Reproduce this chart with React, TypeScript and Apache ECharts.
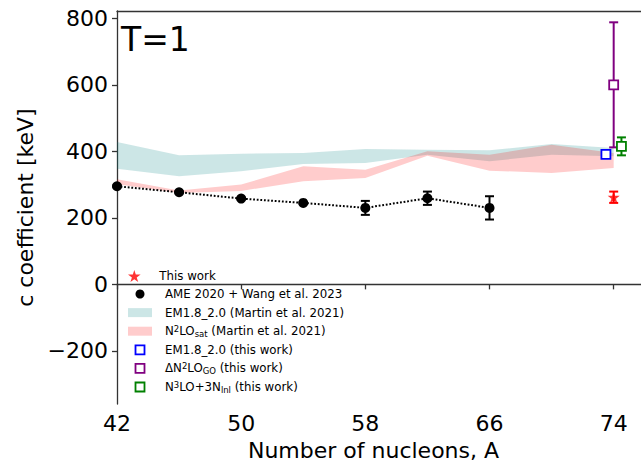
import React, { useEffect, useRef } from "react";
import * as echarts from "echarts";

// ---- data ----
const AME_A = [42, 46, 50, 54, 58, 62, 66];
const AME_C = [295, 277, 258, 245, 230, 259, 230];
const AME_ERR = [3, 3, 3, 3, 21, 20, 35];

const BAND_A = [42, 46, 50, 54, 58, 62, 66, 70, 74];
const EM_LO = [348, 325, 340, 362, 365, 390, 370, 390, 385];
const EM_HI = [428, 388, 393, 395, 407, 405, 403, 422, 410];
const N2_LO = [301, 275, 281, 310, 320, 387, 342, 335, 350];
const N2_HI = [316, 282, 300, 355, 345, 400, 390, 420, 395];

const THIS_A = [74];
const THIS_C = [262];
const THIS_ERR = [17];

const EM_THIS_A = [73.5];
const EM_THIS_C = [391];

const DN2_A = [74];
const DN2_C = [600];
const DN2_ERR = [188];

const N3_A = [74.5];
const N3_C = [415];
const N3_ERR = [27];

const X_TICKS = [42, 50, 58, 66, 74];
const Y_TICKS = [-200, 0, 200, 400, 600, 800];

const FONT = "DejaVu Sans";

const starPath = (() => {
  const pts: string[] = [];
  for (let i = 0; i < 10; i++) {
    const r = i % 2 ? 0.381 : 1;
    const a = ((-90 + i * 36) * Math.PI) / 180;
    pts.push(`${(r * Math.cos(a)).toFixed(3)},${(r * Math.sin(a)).toFixed(3)}`);
  }
  return "path://M" + pts.join("L") + "Z";
})();
const squarePath = "path://M0,0L10,0L10,10L0,10Z";

const NAMES = {
  star: "This work",
  ame: "AME 2020 + Wang et al. 2023",
  emBand: "EM1.8_2.0 (Martin et al. 2021)",
  n2Band: "N2LO_sat (Martin et al. 2021)",
  emThis: "EM1.8_2.0 (this work)",
  dn2: "ΔN2LO_GO (this work)",
  n3: "N3LO+3N_lnl (this work)",
};

const RICH_NAMES: Record<string, string> = {
  [NAMES.star]: "{n|This work}",
  [NAMES.ame]: "{n|AME 2020 + Wang et al. 2023}",
  [NAMES.emBand]: "{n|EM1.8_2.0 (Martin et al. 2021)}",
  [NAMES.n2Band]: "{n|N}{sup|2}{n|LO}{sub|sat}{n| (Martin et al. 2021)}",
  [NAMES.emThis]: "{n|EM1.8_2.0 (this work)}",
  [NAMES.dn2]: "{n|ΔN}{sup|2}{n|LO}{sub|GO}{n| (this work)}",
  [NAMES.n3]: "{n|N}{sup|3}{n|LO+3N}{sub|lnl}{n| (this work)}",
};

function bandSeries(name: string, lo: number[], hi: number[], fill: string) {
  return {
    type: "custom",
    name,
    data: BAND_A.map((a, i) => [a, lo[i], hi[i]]),
    encode: { x: 0, y: [1, 2] },
    z: 1,
    renderItem: (params: any, api: any) => {
      if (params.dataIndex !== 0) return null;
      const upper = BAND_A.map((a, i) => api.coord([a, hi[i]]));
      const lower = BAND_A.map((a, i) => api.coord([a, lo[i]])).reverse();
      return {
        type: "polygon",
        shape: { points: upper.concat(lower) },
        style: { fill, stroke: "none" },
      };
    },
  };
}

function errSeries(name: string, xs: number[], ys: number[], errs: number[], color: string) {
  return {
    type: "custom",
    name,
    data: xs.map((x, i) => [x, ys[i], errs[i]]),
    encode: { x: 0, y: 1 },
    z: 3,
    renderItem: (params: any, api: any) => {
      const x = api.value(0);
      const y = api.value(1);
      const e = api.value(2);
      const t = api.coord([x, y + e]);
      const b = api.coord([x, y - e]);
      const c = 4.5;
      const st = { stroke: color, lineWidth: 2 };
      return {
        type: "group",
        children: [
          { type: "line", shape: { x1: t[0], y1: t[1], x2: b[0], y2: b[1] }, style: st },
          { type: "line", shape: { x1: t[0] - c, y1: t[1], x2: t[0] + c, y2: t[1] }, style: st },
          { type: "line", shape: { x1: b[0] - c, y1: b[1], x2: b[0] + c, y2: b[1] }, style: st },
        ],
      };
    },
  };
}

function squareScatter(name: string, xs: number[], ys: number[], color: string) {
  return {
    type: "scatter",
    name,
    data: xs.map((x, i) => [x, ys[i]]),
    symbol: squarePath,
    symbolSize: 9,
    z: 5,
    itemStyle: { color: "#ffffff", borderColor: color, borderWidth: 1.8, opacity: 1 },
  };
}

const legendText = {
  fontFamily: FONT,
  fontSize: 11.8,
  color: "#000",
  lineHeight: 14,
  rich: {
    sp: { fontFamily: FONT, fontSize: 11.8, lineHeight: 14, width: 8 },
    n: { fontFamily: FONT, fontSize: 11.8, lineHeight: 14, color: "#000" },
    sup: { fontFamily: FONT, fontSize: 8.5, lineHeight: 8, verticalAlign: "top", color: "#000" },
    sub: { fontFamily: FONT, fontSize: 8.5, lineHeight: 8, verticalAlign: "bottom", color: "#000" },
  },
};

const legendFormatter = (name: string) => "{sp| }" + (RICH_NAMES[name] || name);

export default function App() {
  const ref = useRef<HTMLDivElement>(null);
  useEffect(() => {
    document.body.style.margin = "0";
    const chart = echarts.init(ref.current!, null, { renderer: "svg" });
    const axisColor = "#333";
    const option: any = {
      animation: false,
      backgroundColor: "#ffffff",
      textStyle: { fontFamily: FONT },
      grid: { left: 117, top: 11, right: 0, bottom: 61, containLabel: false },
      xAxis: [
        {
          type: "value",
          min: 42,
          max: 75.76,
          name: "Number of nucleons, A",
          nameLocation: "middle",
          nameGap: 34,
          nameTextStyle: { fontSize: 22, color: "#000", fontFamily: FONT, padding: [0, 11, 0, 0] },
          axisLine: { show: true, lineStyle: { color: axisColor, width: 1.3 } },
          axisTick: { show: true, length: 5, customValues: X_TICKS, lineStyle: { color: axisColor, width: 1.3 } },
          axisLabel: { customValues: X_TICKS, fontSize: 22, color: "#000", margin: 8, fontFamily: FONT },
          splitLine: { show: false },
        },
        {
          type: "value",
          position: "top",
          min: 42,
          max: 75.76,
          axisLine: { show: true, lineStyle: { color: axisColor, width: 1.3 } },
          axisTick: { show: false },
          axisLabel: { show: false },
          splitLine: { show: false },
        },
      ],
      yAxis: {
        type: "value",
        min: -360,
        max: 822,
        name: "c coefficient [keV]",
        nameLocation: "middle",
        nameGap: 77,
        nameTextStyle: { fontSize: 22, color: "#000", fontFamily: FONT },
        axisLine: { show: true, lineStyle: { color: axisColor, width: 1.3 } },
        axisTick: { show: true, length: 5, customValues: Y_TICKS, lineStyle: { color: axisColor, width: 1.3 } },
        axisLabel: {
          customValues: Y_TICKS,
          fontSize: 22,
          color: "#000",
          margin: 9,
          fontFamily: FONT,
          formatter: (v: number) => (v < 0 ? "\u2212" + Math.abs(v) : String(v)),
        },
        splitLine: { show: false },
      },
      legend: [
        {
          orient: "vertical",
          left: 128,
          top: 269,
          padding: 0,
          itemWidth: 24,
          itemHeight: 12,
          selectedMode: false,
          symbolKeepAspect: true,
          formatter: legendFormatter,
          textStyle: legendText,
          data: [{ name: NAMES.star, icon: starPath, itemStyle: { color: "red", borderWidth: 0 } }],
        },
        {
          orient: "vertical",
          left: 128,
          top: 287,
          padding: 0,
          itemWidth: 24,
          itemHeight: 9,
          itemGap: 4.6,
          selectedMode: false,
          symbolKeepAspect: true,
          formatter: legendFormatter,
          textStyle: legendText,
          data: [
            { name: NAMES.ame, icon: "circle", itemStyle: { color: "#000", borderWidth: 0 } },
            { name: NAMES.emBand, icon: "rect", itemStyle: { color: "rgba(0,128,128,0.2)", borderWidth: 0 } },
            { name: NAMES.n2Band, icon: "rect", itemStyle: { color: "rgba(255,0,0,0.2)", borderWidth: 0 } },
            { name: NAMES.emThis, icon: squarePath, itemStyle: { color: "#fff", borderColor: "blue", borderWidth: 1.8 } },
            { name: NAMES.dn2, icon: squarePath, itemStyle: { color: "#fff", borderColor: "purple", borderWidth: 1.8 } },
            { name: NAMES.n3, icon: squarePath, itemStyle: { color: "#fff", borderColor: "green", borderWidth: 1.8 } },
          ],
        },
      ],
      graphic: [
        {
          type: "text",
          left: 121,
          top: 23,
          style: { text: "T=1", fontSize: 33, fontFamily: FONT, fill: "#000" },
          z: 10,
        },
      ],
      series: [
        bandSeries(NAMES.emBand, EM_LO, EM_HI, "rgba(0,128,128,0.2)"),
        bandSeries(NAMES.n2Band, N2_LO, N2_HI, "rgba(255,0,0,0.2)"),
        errSeries("AME err", AME_A, AME_C, AME_ERR, "#000"),
        errSeries("This err", THIS_A, THIS_C, THIS_ERR, "red"),
        errSeries("DN2 err", DN2_A, DN2_C, DN2_ERR, "purple"),
        errSeries("N3 err", N3_A, N3_C, N3_ERR, "green"),
        {
          type: "line",
          name: NAMES.ame,
          data: AME_A.map((a, i) => [a, AME_C[i]]),
          symbol: "circle",
          symbolSize: 10,
          z: 4,
          itemStyle: { color: "#000" },
          lineStyle: { color: "#000", width: 2, type: [1.8, 1.8] },
        },
        {
          type: "scatter",
          name: NAMES.star,
          data: THIS_A.map((a, i) => [a, THIS_C[i]]),
          symbol: starPath,
          symbolSize: 12,
          z: 5,
          itemStyle: { color: "red" },
        },
        squareScatter(NAMES.emThis, EM_THIS_A, EM_THIS_C, "blue"),
        squareScatter(NAMES.dn2, DN2_A, DN2_C, "purple"),
        squareScatter(NAMES.n3, N3_A, N3_C, "green"),
      ],
    };
    chart.setOption(option);
    return () => chart.dispose();
  }, []);
  return (
    <div
      ref={ref}
      style={{ position: "fixed", left: 0, top: 0, width: 641, height: 466, background: "#fff" }}
    />
  );
}
